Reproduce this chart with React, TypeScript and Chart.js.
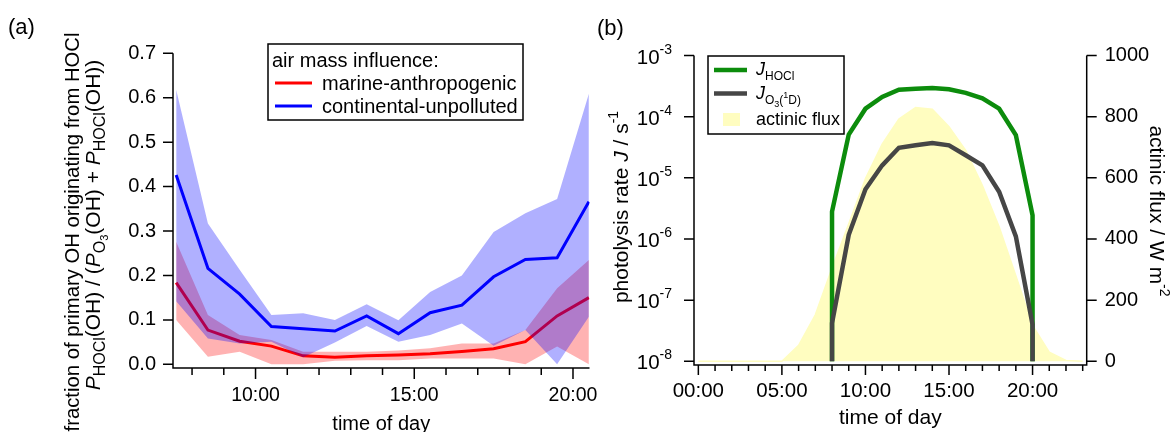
import React, { useEffect, useRef } from "react";
import { Chart, registerables } from "chart.js";

Chart.register(...registerables);

const FONT = '"Liberation Sans", Arial, Helvetica, sans-serif';

// ---------------- Panel (a) data ----------------
const hoursA = [7.5, 8.5, 9.5, 10.5, 11.5, 12.5, 13.5, 14.5, 15.5, 16.5, 17.5, 18.5, 19.5, 20.5];
const marineMean = [0.184, 0.077, 0.052, 0.041, 0.019, 0.016, 0.019, 0.021, 0.024, 0.029, 0.035, 0.051, 0.109, 0.15];
const marineUpper = [0.276, 0.111, 0.066, 0.055, 0.028, 0.028, 0.028, 0.031, 0.036, 0.047, 0.047, 0.077, 0.171, 0.235];
const marineLower = [0.1, 0.017, 0.028, 0.0, 0.0, 0.008, 0.009, 0.009, 0.013, 0.013, 0.013, 0.0, 0.04, 0.0];
const continentalMean = [0.426, 0.216, 0.158, 0.085, 0.08, 0.075, 0.109, 0.069, 0.116, 0.133, 0.197, 0.236, 0.24, 0.366];
const continentalUpper = [0.618, 0.317, 0.213, 0.111, 0.115, 0.1, 0.135, 0.099, 0.163, 0.2, 0.298, 0.34, 0.372, 0.609];
const continentalLower = [0.142, 0.058, 0.047, 0.051, 0.016, 0.049, 0.086, 0.051, 0.066, 0.092, 0.042, 0.077, 0.0, 0.107];
const tickHoursA = [8, 9, 10, 11, 12, 13, 14, 15, 16, 17, 18, 19, 20];
const majorHoursA = [10, 15, 20];
const xTickLabelsA = ["10:00", "15:00", "20:00"];
const yTicksA = [0, 0.1, 0.2, 0.3, 0.4, 0.5, 0.6, 0.7];
const yTickLabelsA = ["0.0", "0.1", "0.2", "0.3", "0.4", "0.5", "0.6", "0.7"];

// ---------------- Panel (b) data ----------------
const hoursB = [0, 1, 2, 3, 4, 5, 6, 7, 8, 9, 10, 11, 12, 13, 14, 15, 16, 17, 18, 19, 20, 21, 22, 23];
const actinicFlux = [0, 0, 0, 0, 0, 0, 52, 152, 305, 450, 598, 710, 792, 830, 824, 767, 690, 575, 440, 280, 117, 30, 3, 0];
const jTimes = [8, 8, 9, 10, 11, 12, 13, 14, 15, 16, 17, 18, 19, 20, 20];
const jHOCl = [1e-8, 2.8e-6, 5.1e-5, 1.35e-4, 2.1e-4, 2.75e-4, 2.85e-4, 2.95e-4, 2.8e-4, 2.45e-4, 2.0e-4, 1.35e-4, 5.0e-5, 2.45e-6, 1e-8];
const jO1D = [1e-8, 4.2e-8, 1.17e-6, 6.5e-6, 1.6e-5, 3.1e-5, 3.4e-5, 3.7e-5, 3.4e-5, 2.34e-5, 1.6e-5, 5.9e-6, 1.1e-6, 4.0e-8, 1e-8];
const tickHoursB = [0, 1, 2, 3, 4, 5, 6, 7, 8, 9, 10, 11, 12, 13, 14, 15, 16, 17, 18, 19, 20, 21, 22, 23];
const majorHoursB = [0, 5, 10, 15, 20];
const xTickLabelsB = ["00:00", "05:00", "10:00", "15:00", "20:00"];
const logExponents = [-8, -7, -6, -5, -4, -3];
const fluxTicks = [0, 200, 400, 600, 800, 1000];

const GREEN = "rgb(12,140,12)";
const GRAY = "rgb(70,70,70)";
const YELLOW = "rgb(255,253,192)";

type Seg = { t: string; size: number; dy?: number; italic?: boolean };

const segFont = (s: Seg) => `${s.italic ? "italic " : ""}${s.size}px ${FONT}`;

function richWidth(ctx: CanvasRenderingContext2D, segs: Seg[]) {
  let w = 0;
  for (const s of segs) {
    ctx.font = segFont(s);
    w += ctx.measureText(s.t).width;
  }
  return w;
}

function drawRich(ctx: CanvasRenderingContext2D, segs: Seg[], x: number, y: number, align: "left" | "center" | "right") {
  const w = richWidth(ctx, segs);
  let cx = align === "left" ? x : align === "center" ? x - w / 2 : x - w;
  ctx.textAlign = "left";
  ctx.textBaseline = "alphabetic";
  for (const s of segs) {
    ctx.font = segFont(s);
    ctx.fillText(s.t, cx, y + (s.dy || 0));
    cx += ctx.measureText(s.t).width;
  }
}

function drawRotated(ctx: CanvasRenderingContext2D, segs: Seg[], bx: number, cy: number, angle: number) {
  ctx.save();
  ctx.translate(bx, cy);
  ctx.rotate(angle);
  drawRich(ctx, segs, 0, 0, "center");
  ctx.restore();
}

const pts = (xs: number[], ys: number[]) => xs.map((x, i) => ({ x, y: ys[i] }));

// ---------------- Panel (a) decorations ----------------
const panelAPlugin = {
  id: "panelADecor",
  afterDraw(chart: any) {
    const ctx: CanvasRenderingContext2D = chart.ctx;
    const { left, right, top, bottom } = chart.chartArea;
    const xs = chart.scales.x;
    const ys = chart.scales.y;
    ctx.save();
    ctx.strokeStyle = "#000";
    ctx.fillStyle = "#000";
    ctx.lineWidth = 1.5;
    ctx.beginPath();
    ctx.moveTo(left, top);
    ctx.lineTo(left, bottom);
    ctx.moveTo(left - 0.75, bottom);
    ctx.lineTo(right, bottom);
    ctx.stroke();

    // y ticks
    ctx.beginPath();
    yTicksA.forEach((v) => {
      const py = ys.getPixelForValue(v);
      ctx.moveTo(left - 10, py);
      ctx.lineTo(left, py);
    });
    ctx.stroke();
    ctx.font = `20px ${FONT}`;
    ctx.textAlign = "right";
    ctx.textBaseline = "middle";
    yTicksA.forEach((v, i) => {
      ctx.fillText(yTickLabelsA[i], left - 17, ys.getPixelForValue(v));
    });

    // x ticks
    ctx.beginPath();
    tickHoursA.forEach((h) => {
      const px = xs.getPixelForValue(h);
      const len = majorHoursA.includes(h) ? 11 : 7;
      ctx.moveTo(px, bottom);
      ctx.lineTo(px, bottom + len);
    });
    ctx.stroke();
    ctx.font = `19.5px ${FONT}`;
    ctx.textAlign = "center";
    ctx.textBaseline = "middle";
    majorHoursA.forEach((h, i) => {
      ctx.fillText(xTickLabelsA[i], xs.getPixelForValue(h), 396);
    });

    // x title
    ctx.font = `20px ${FONT}`;
    ctx.textBaseline = "alphabetic";
    ctx.fillText("time of day", (left + right) / 2, 430);

    // y title (two lines)
    drawRotated(ctx, [{ t: "fraction of primary OH originating from HOCl", size: 20.3 }], 79, 232, -Math.PI / 2);
    drawRotated(
      ctx,
      [
        { t: "P", size: 21, italic: true },
        { t: "HOCl", size: 16, dy: 5 },
        { t: "(OH) / (", size: 21 },
        { t: "P", size: 21, italic: true },
        { t: "O", size: 16, dy: 5 },
        { t: "3", size: 11, dy: 8 },
        { t: "(OH) + ", size: 21 },
        { t: "P", size: 21, italic: true },
        { t: "HOCl", size: 16, dy: 5 },
        { t: "(OH))", size: 21 },
      ],
      99.5,
      225,
      -Math.PI / 2
    );

    // panel label
    ctx.font = `22px ${FONT}`;
    ctx.textAlign = "left";
    ctx.fillText("(a)", 8, 34);

    // legend
    ctx.fillStyle = "#fff";
    ctx.fillRect(268, 44, 255, 76);
    ctx.strokeStyle = "#000";
    ctx.lineWidth = 1.5;
    ctx.strokeRect(268, 44, 255, 76);
    ctx.fillStyle = "#000";
    ctx.font = `20px ${FONT}`;
    ctx.textAlign = "left";
    ctx.fillText("air mass influence:", 272, 67);
    ctx.lineWidth = 3;
    ctx.strokeStyle = "#ff0000";
    ctx.beginPath();
    ctx.moveTo(275, 83);
    ctx.lineTo(312, 83);
    ctx.stroke();
    ctx.strokeStyle = "#0000ff";
    ctx.beginPath();
    ctx.moveTo(275, 106);
    ctx.lineTo(312, 106);
    ctx.stroke();
    ctx.fillText("marine-anthropogenic", 322, 89.5);
    ctx.fillText("continental-unpolluted", 322, 112.5);
    ctx.restore();
  },
};

// ---------------- Panel (b) decorations ----------------
const panelBPlugin = {
  id: "panelBDecor",
  afterDraw(chart: any) {
    const ctx: CanvasRenderingContext2D = chart.ctx;
    const { left, right, top, bottom } = chart.chartArea;
    const xs = chart.scales.x;
    const ys = chart.scales.y;
    const y2 = chart.scales.y2;
    ctx.save();
    ctx.strokeStyle = "#000";
    ctx.fillStyle = "#000";
    ctx.lineWidth = 1.5;
    ctx.beginPath();
    ctx.moveTo(left, top);
    ctx.lineTo(left, bottom);
    ctx.moveTo(right, top);
    ctx.lineTo(right, bottom);
    ctx.moveTo(left - 0.75, bottom);
    ctx.lineTo(right + 0.75, bottom);
    ctx.stroke();

    // ticks
    ctx.beginPath();
    logExponents.forEach((e) => {
      const py = ys.getPixelForValue(Math.pow(10, e));
      ctx.moveTo(left - 10, py);
      ctx.lineTo(left, py);
    });
    fluxTicks.forEach((v) => {
      const py = y2.getPixelForValue(v);
      ctx.moveTo(right, py);
      ctx.lineTo(right + 10, py);
    });
    tickHoursB.forEach((h) => {
      const px = xs.getPixelForValue(h);
      const len = majorHoursB.includes(h) ? 10 : 6;
      ctx.moveTo(px, bottom);
      ctx.lineTo(px, bottom + len);
    });
    ctx.stroke();

    logExponents.forEach((e) => {
      const py = ys.getPixelForValue(Math.pow(10, e));
      drawRich(
        ctx,
        [
          { t: "10", size: 20.5 },
          { t: String(e), size: 14, dy: -10 },
        ],
        left - 22,
        py + 8,
        "right"
      );
    });

    ctx.font = `20px ${FONT}`;
    ctx.textAlign = "left";
    ctx.textBaseline = "middle";
    fluxTicks.forEach((v) => {
      ctx.fillText(String(v), right + 18, y2.getPixelForValue(v));
    });

    ctx.font = `20.5px ${FONT}`;
    ctx.textAlign = "center";
    majorHoursB.forEach((h, i) => {
      ctx.fillText(xTickLabelsB[i], xs.getPixelForValue(h), 391);
    });

    ctx.font = `21px ${FONT}`;
    ctx.textBaseline = "alphabetic";
    ctx.fillText("time of day", (left + right) / 2, 424);

    drawRotated(
      ctx,
      [
        { t: "photolysis rate ", size: 21 },
        { t: "J", size: 21, italic: true },
        { t: " / s", size: 21 },
        { t: "-1", size: 14, dy: -10 },
      ],
      38,
      207,
      -Math.PI / 2
    );
    drawRotated(
      ctx,
      [
        { t: "actinic flux / W m", size: 21 },
        { t: "-2", size: 14, dy: -10 },
      ],
      560,
      211,
      Math.PI / 2
    );

    ctx.font = `22px ${FONT}`;
    ctx.textAlign = "left";
    ctx.fillText("(b)", 7, 35);

    // legend
    ctx.fillStyle = "#fff";
    ctx.fillRect(118, 56, 136, 78);
    ctx.strokeStyle = "#000";
    ctx.lineWidth = 1.5;
    ctx.strokeRect(118, 56, 136, 78);
    ctx.lineWidth = 4.5;
    ctx.strokeStyle = GREEN;
    ctx.beginPath();
    ctx.moveTo(124, 70);
    ctx.lineTo(157, 70);
    ctx.stroke();
    ctx.strokeStyle = GRAY;
    ctx.beginPath();
    ctx.moveTo(124, 93.5);
    ctx.lineTo(157, 93.5);
    ctx.stroke();
    ctx.fillStyle = YELLOW;
    ctx.fillRect(133, 113, 17, 13);
    ctx.fillStyle = "#000";
    drawRich(
      ctx,
      [
        { t: "J", size: 18, italic: true },
        { t: "HOCl", size: 12, dy: 5 },
      ],
      166,
      75,
      "left"
    );
    drawRich(
      ctx,
      [
        { t: "J", size: 18, italic: true },
        { t: "O", size: 12, dy: 5 },
        { t: "3", size: 9, dy: 8 },
        { t: "(", size: 12, dy: 5 },
        { t: "1", size: 9, dy: -1 },
        { t: "D)", size: 12, dy: 5 },
      ],
      166,
      98.5,
      "left"
    );
    drawRich(ctx, [{ t: "actinic flux", size: 18 }], 166, 125, "left");
    ctx.restore();
  },
};

function makeConfigA(): any {
  const hidden = { borderWidth: 0, borderColor: "rgba(0,0,0,0)", pointRadius: 0, fill: false };
  return {
    type: "line",
    data: {
      datasets: [
        { label: "marine lower", data: pts(hoursA, marineLower), ...hidden, order: 6 },
        {
          label: "marine upper",
          data: pts(hoursA, marineUpper),
          borderWidth: 0,
          borderColor: "rgba(0,0,0,0)",
          pointRadius: 0,
          fill: "-1",
          backgroundColor: "rgba(255,0,0,0.3)",
          order: 5,
        },
        {
          label: "marine-anthropogenic",
          data: pts(hoursA, marineMean),
          borderColor: "#ff0000",
          borderWidth: 3,
          pointRadius: 0,
          fill: false,
          order: 4,
        },
        { label: "continental lower", data: pts(hoursA, continentalLower), ...hidden, order: 3 },
        {
          label: "continental upper",
          data: pts(hoursA, continentalUpper),
          borderWidth: 0,
          borderColor: "rgba(0,0,0,0)",
          pointRadius: 0,
          fill: "-1",
          backgroundColor: "rgba(0,0,255,0.31)",
          order: 2,
        },
        {
          label: "continental-unpolluted",
          data: pts(hoursA, continentalMean),
          borderColor: "#0000ff",
          borderWidth: 3,
          pointRadius: 0,
          fill: false,
          order: 1,
        },
      ],
    },
    options: {
      responsive: false,
      animation: false,
      events: [],
      layout: { padding: { left: 173, right: 20.5, top: 53.3, bottom: 64 } },
      elements: { line: { tension: 0 } },
      scales: {
        x: { type: "linear", display: false, min: 7.4, max: 20.52 },
        y: { type: "linear", display: false, min: -0.0083, max: 0.7 },
      },
      plugins: {
        legend: { display: false },
        tooltip: { enabled: false },
        filler: { drawTime: "beforeDatasetDraw" },
      },
    },
    plugins: [panelAPlugin],
  };
}

function makeConfigB(): any {
  return {
    type: "line",
    data: {
      datasets: [
        {
          label: "actinic flux",
          data: pts(hoursB, actinicFlux),
          yAxisID: "y2",
          borderColor: YELLOW,
          borderWidth: 1.5,
          backgroundColor: YELLOW,
          fill: "origin",
          pointRadius: 0,
          order: 3,
        },
        {
          label: "J_HOCl",
          data: pts(jTimes, jHOCl),
          yAxisID: "y",
          borderColor: GREEN,
          borderWidth: 4.5,
          pointRadius: 0,
          fill: false,
          order: 2,
        },
        {
          label: "J_O3(1D)",
          data: pts(jTimes, jO1D),
          yAxisID: "y",
          borderColor: GRAY,
          borderWidth: 4.5,
          pointRadius: 0,
          fill: false,
          order: 1,
        },
      ],
    },
    options: {
      responsive: false,
      animation: false,
      events: [],
      layout: { padding: { left: 104, right: 89.3, top: 55.5, bottom: 67 } },
      elements: { line: { tension: 0 } },
      scales: {
        x: { type: "linear", display: false, min: -0.26, max: 23.24 },
        y: { type: "logarithmic", display: false, min: 8.7e-9, max: 1e-3 },
        y2: { type: "linear", display: false, min: -12.1, max: 1000 },
      },
      plugins: {
        legend: { display: false },
        tooltip: { enabled: false },
        filler: { drawTime: "beforeDatasetDraw" },
      },
    },
    plugins: [panelBPlugin],
  };
}

function Panel({ left, width, makeConfig }: { left: number; width: number; makeConfig: () => any }) {
  const ref = useRef<HTMLCanvasElement>(null);
  useEffect(() => {
    if (!ref.current) return;
    const chart = new Chart(ref.current, makeConfig());
    return () => chart.destroy();
  }, []);
  return (
    <div style={{ position: "absolute", left, top: 0, width, height: 432 }}>
      <canvas ref={ref} width={width} height={432} style={{ display: "block", width, height: 432 }} />
    </div>
  );
}

export default function App() {
  return (
    <div style={{ position: "fixed", left: 0, top: 0, width: 1176, height: 432, background: "#fff", overflow: "hidden" }}>
      <Panel left={590} width={586} makeConfig={makeConfigB} />
      <Panel left={0} width={610} makeConfig={makeConfigA} />
    </div>
  );
}
